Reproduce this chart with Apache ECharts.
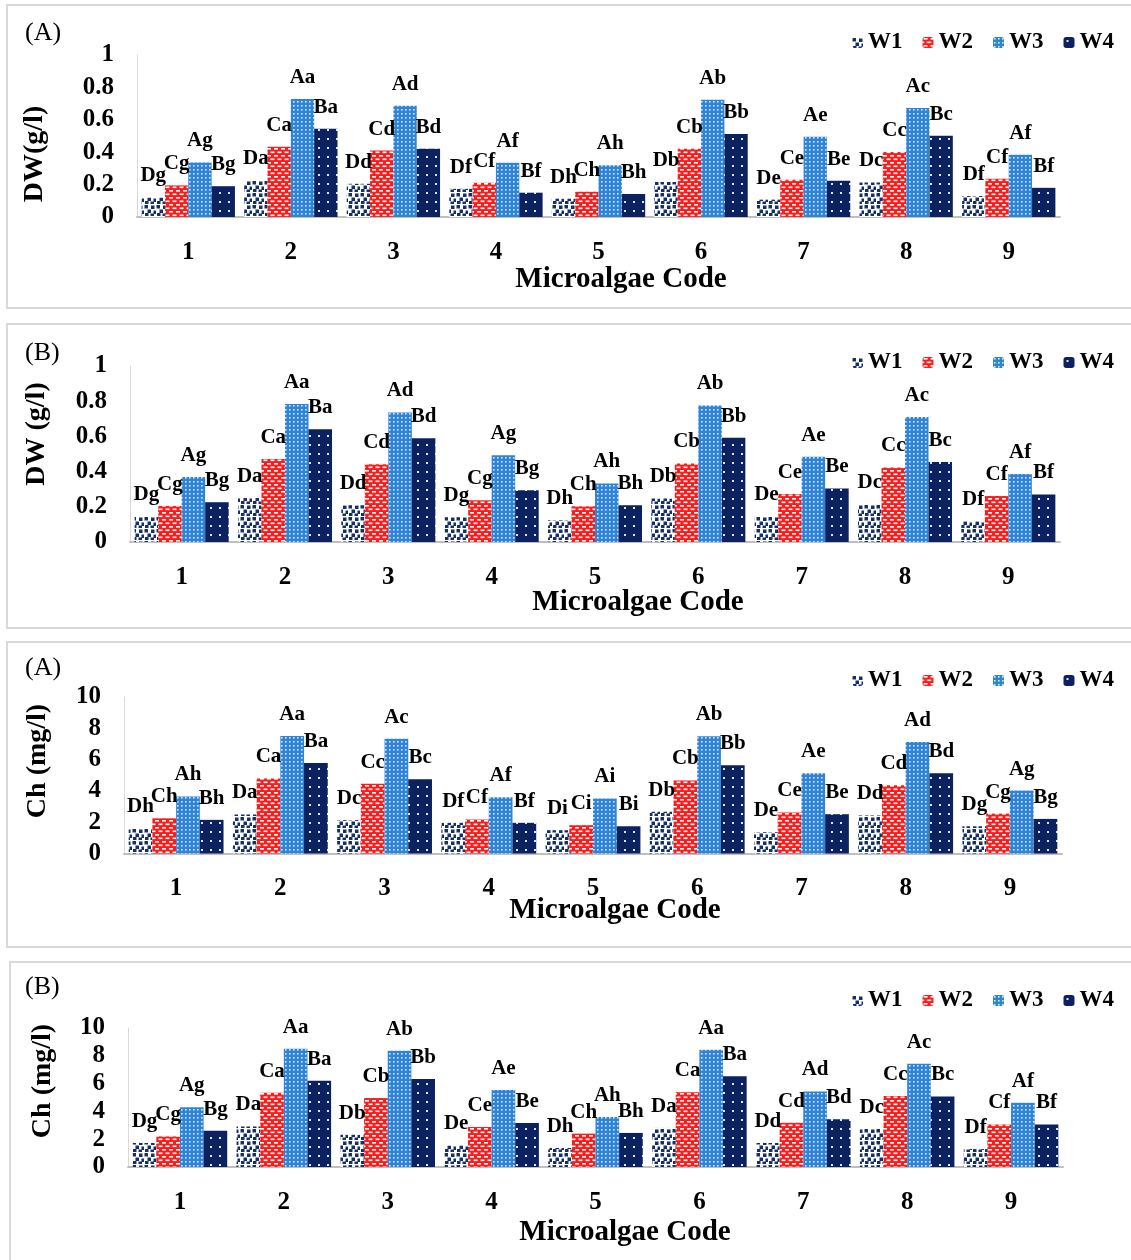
<!DOCTYPE html>
<html>
<head>
<meta charset="utf-8">
<script src="https://cdn.jsdelivr.net/npm/echarts@6/dist/echarts.min.js"></script>
<style>
  html, body { margin: 0; padding: 0; background: #fff; }
  #main { width: 1131px; height: 1260px; }
</style>
</head>
<body>
<div id="main"></div>
<script>
// microalgae codes on x axis
const categories = ['1', '2', '3', '4', '5', '6', '7', '8', '9'];
const seriesNames = ['W1', 'W2', 'W3', 'W4'];
// first letter of significance label for each W series
const prefixes = ['D', 'C', 'A', 'B'];

// panel 1 : DW (A)
const dwA_W1 = [0.12, 0.228, 0.205, 0.174, 0.113, 0.216, 0.107, 0.213, 0.129];
const dwA_W2 = [0.195, 0.433, 0.41, 0.211, 0.156, 0.421, 0.23, 0.402, 0.236];
const dwA_W3 = [0.336, 0.729, 0.686, 0.335, 0.32, 0.723, 0.495, 0.673, 0.384];
const dwA_W4 = [0.19, 0.544, 0.421, 0.15, 0.142, 0.513, 0.224, 0.501, 0.18];
const dwA_letters = ['g', 'a', 'd', 'f', 'h', 'b', 'e', 'c', 'f'];

// panel 2 : DW (B)
const dwB_W1 = [0.146, 0.25, 0.209, 0.141, 0.123, 0.247, 0.146, 0.216, 0.118];
const dwB_W2 = [0.205, 0.471, 0.442, 0.237, 0.203, 0.446, 0.273, 0.423, 0.262];
const dwB_W3 = [0.37, 0.784, 0.736, 0.493, 0.332, 0.776, 0.484, 0.71, 0.387];
const dwB_W4 = [0.226, 0.641, 0.59, 0.294, 0.209, 0.592, 0.304, 0.455, 0.27];
const dwB_letters = ['g', 'a', 'd', 'g', 'h', 'b', 'e', 'c', 'f'];

// panel 3 : Ch (A)
const chA_W1 = [1.63, 2.49, 2.13, 1.96, 1.49, 2.66, 1.36, 2.43, 1.74];
const chA_W2 = [2.25, 4.79, 4.45, 2.17, 1.81, 4.66, 2.62, 4.36, 2.55];
const chA_W3 = [3.64, 7.51, 7.34, 3.6, 3.51, 7.49, 5.13, 7.13, 4.02];
const chA_W4 = [2.15, 5.79, 4.75, 1.96, 1.74, 5.64, 2.51, 5.13, 2.21];
const chA_letters = ['h', 'a', 'c', 'f', 'i', 'b', 'e', 'd', 'g'];

// panel 4 : Ch (B)
const chB_W1 = [1.73, 2.92, 2.32, 1.55, 1.37, 2.81, 1.73, 2.73, 1.29];
const chB_W2 = [2.2, 5.35, 4.96, 2.88, 2.4, 5.37, 3.19, 5.11, 3.06];
const chB_W3 = [4.29, 8.51, 8.37, 5.54, 3.6, 8.44, 5.44, 7.43, 4.63];
const chB_W4 = [2.61, 6.21, 6.33, 3.17, 2.45, 6.52, 3.43, 5.08, 3.06];
const chB_letters = ['g', 'a', 'b', 'e', 'h', 'a', 'd', 'c', 'f'];

const FONT = '"Liberation Serif", "Times New Roman", serif';

// fill patterns like the excel ones
function makePattern(kind) {
  const c = document.createElement('canvas');
  const ctx = c.getContext('2d');
  if (kind === 0) {
    c.width = 12; c.height = 12;
    ctx.fillStyle = '#ffffff'; ctx.fillRect(0, 0, 12, 12);
    ctx.fillStyle = '#142f6b';
    [[0.5, 1], [7, 1.5], [3.5, 5.5], [9.5, 6.5], [1, 9], [6.5, 9.5]].forEach(p => ctx.fillRect(p[0], p[1], 3.5, 3.5));
  } else if (kind === 1) {
    c.width = 7; c.height = 7;
    ctx.fillStyle = '#fb1c1c'; ctx.fillRect(0, 0, 7, 7);
    ctx.fillStyle = '#ffffff';
    ctx.fillRect(1, 1, 4, 1.6);
    ctx.fillRect(4.5, 4.5, 4, 1.6);
    ctx.fillRect(-2.5, 4.5, 4, 1.6);
  } else if (kind === 2) {
    c.width = 4; c.height = 4;
    ctx.fillStyle = '#2f85d3'; ctx.fillRect(0, 0, 4, 4);
    ctx.fillStyle = '#d6eaff';
    ctx.fillRect(1, 1, 1.6, 1.6);
  } else {
    c.width = 9; c.height = 9;
    ctx.fillStyle = '#0b2160'; ctx.fillRect(0, 0, 9, 9);
    ctx.fillStyle = '#dfe6f7';
    ctx.fillRect(3, 3, 2, 2);
  }
  return { image: c, repeat: 'repeat' };
}
const patterns = [0, 1, 2, 3].map(makePattern);

const panels = [
  { data: [dwA_W1, dwA_W2, dwA_W3, dwA_W4], letters: dwA_letters, max: 1, interval: 0.2,
    grid: { left: 137, right: 71, top: 55, height: 162 },
    box: [7, 5, 1130, 303], tag: '(A)', tagY: 33, legendTop: 26,
    yName: 'DW(g/l)', yNamePos: [35, 154], xNamePos: [621, 280] },
  { data: [dwB_W1, dwB_W2, dwB_W3, dwB_W4], letters: dwB_letters, max: 1, interval: 0.2,
    grid: { left: 130, right: 71, top: 366, height: 176 },
    box: [7, 324, 1130, 304], tag: '(B)', tagY: 353, legendTop: 346,
    yName: 'DW (g/l)', yNamePos: [37, 434], xNamePos: [638, 603] },
  { data: [chA_W1, chA_W2, chA_W3, chA_W4], letters: chA_letters, max: 10, interval: 2,
    grid: { left: 124, right: 69, top: 697, height: 156.5 },
    box: [7, 642, 1130, 305], tag: '(A)', tagY: 668, legendTop: 664,
    yName: 'Ch (mg/l)', yNamePos: [38, 761], xNamePos: [615, 911] },
  { data: [chB_W1, chB_W2, chB_W3, chB_W4], letters: chB_letters, max: 10, interval: 2,
    grid: { left: 128, right: 68, top: 1028, height: 139 },
    box: [10, 962, 1130, 310], tag: '(B)', tagY: 987, legendTop: 984,
    yName: 'Ch (mg/l)', yNamePos: [43, 1081], xNamePos: [625, 1233] }
];

const grids = [], xAxes = [], yAxes = [], series = [], legends = [], graphics = [];

panels.forEach((p, i) => {
  grids.push(p.grid);
  xAxes.push({
    type: 'category', gridIndex: i, data: categories,
    axisTick: { show: false },
    axisLine: { lineStyle: { color: '#bfbfbf', width: 2 } },
    axisLabel: { margin: 23, fontFamily: FONT, fontWeight: 'bold', fontSize: 25, color: '#000' }
  });
  yAxes.push({
    type: 'value', gridIndex: i, min: 0, max: p.max, interval: p.interval,
    splitLine: { show: false },
    axisLine: { show: true, lineStyle: { color: '#d9d9d9', width: 1 } },
    axisTick: { show: false },
    axisLabel: { margin: 23, fontFamily: FONT, fontWeight: 'bold', fontSize: 25, color: '#000' }
  });
  p.data.forEach((vals, s) => {
    series.push({
      name: seriesNames[s], type: 'bar', xAxisIndex: i, yAxisIndex: i,
      data: vals, barGap: 0, barCategoryGap: '9%',
      itemStyle: { color: patterns[s] },
      label: {
        show: true, position: 'top', distance: 11,
        fontFamily: FONT, fontWeight: 'bold', fontSize: 21, color: '#000',
        formatter: (d) => prefixes[s] + p.letters[d.dataIndex]
      }
    });
  });
  legends.push({
    data: seriesNames, right: 12, top: p.legendTop, itemWidth: 11, itemHeight: 11, itemGap: 20,
    textStyle: { fontFamily: FONT, fontWeight: 'bold', fontSize: 23, color: '#000' }
  });
  graphics.push({
    type: 'rect', shape: { x: p.box[0], y: p.box[1], width: p.box[2], height: p.box[3] },
    style: { fill: 'none', stroke: '#d9d9d9', lineWidth: 2 }, z: -1
  });
  graphics.push({
    type: 'text', x: 25, y: p.tagY,
    style: { text: p.tag, fontFamily: FONT, fontSize: 26, fill: '#000', verticalAlign: 'middle' }
  });
  graphics.push({
    type: 'text', x: p.xNamePos[0], y: p.xNamePos[1],
    style: { text: 'Microalgae Code', fontFamily: FONT, fontWeight: 'bold', fontSize: 29, fill: '#000', align: 'center', verticalAlign: 'middle' }
  });
  graphics.push({
    type: 'text', x: p.yNamePos[0], y: p.yNamePos[1], rotation: Math.PI / 2,
    style: { text: p.yName, fontFamily: FONT, fontWeight: 'bold', fontSize: 28, fill: '#000', align: 'center', verticalAlign: 'middle' }
  });
});

const chart = echarts.init(document.getElementById('main'));
chart.setOption({
  backgroundColor: '#fff',
  animation: false,
  grid: grids,
  xAxis: xAxes,
  yAxis: yAxes,
  legend: legends,
  graphic: graphics,
  series: series
});
</script>
</body>
</html>
